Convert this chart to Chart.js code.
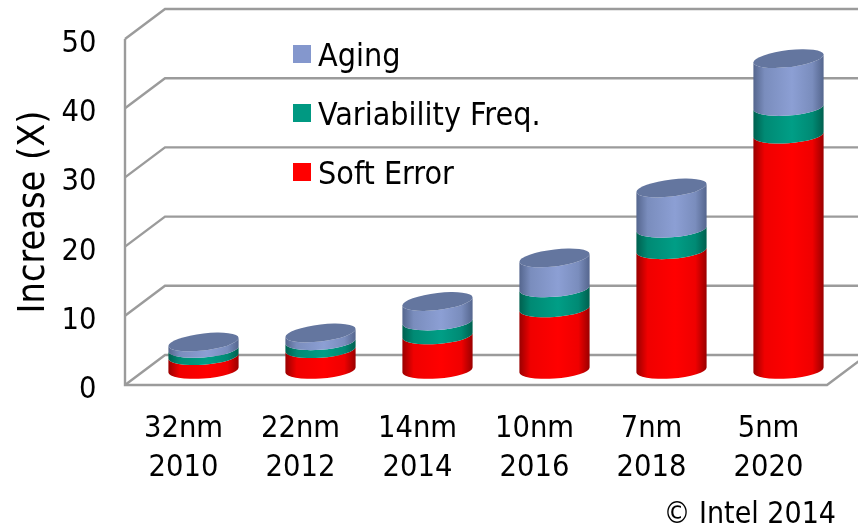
<!DOCTYPE html>
<html>
<head>
<meta charset="utf-8">
<style>
  html, body { margin: 0; padding: 0; background: #fff; }
  #wrap { width: 858px; height: 528px; position: relative; }
</style>
<script src="https://cdn.jsdelivr.net/npm/chart.js@4"></script>
</head>
<body>
<div id="wrap"><canvas id="chart"></canvas></div>
<script>
var categories = [['32nm', '2010'], ['22nm', '2012'], ['14nm', '2014'], ['10nm', '2016'], ['7nm', '2018'], ['5nm', '2020']];
var softError = [2.0, 3.0, 5.0, 8.9, 17.3, 34.0];
var variabilityFreq = [1.05, 1.15, 2.0, 2.9, 3.1, 4.0];
var aging = [1.0, 1.2, 2.9, 4.4, 5.9, 7.0];
var legendOrder = [2, 1, 0];

var FONT = '"DejaVu Sans Condensed", "Noto Sans", sans-serif';
var DEPTH_X = 40, DEPTH_Y = -30;

// edge / mid / centre shades for the cylinder sides
var shades = [
    { edge: '#9a0000', mid: '#f00000', centre: '#ff0000', key: '#ff0000' },
    { edge: '#00604f', mid: '#008a74', centre: '#009e86', key: '#009982' },
    { edge: '#55668e', mid: '#7a8dbd', centre: '#8c9fd4', key: '#8497cd' }
];
var capColor = '#64769f';

function sideGradient(ctx, x0, x1, s) {
    var g = ctx.createLinearGradient(x0, 0, x1, 0);
    g.addColorStop(0, s.edge);
    g.addColorStop(0.16, s.mid);
    g.addColorStop(0.55, s.centre);
    g.addColorStop(0.84, s.mid);
    g.addColorStop(1, s.edge);
    return g;
}

function arcPath(ctx, cx, cy, a, b, shear, from, to, ccw) {
    ctx.save();
    ctx.transform(1, shear, 0, 1, cx, cy);
    ctx.ellipse(0, 0, a, b, 0, from, to, ccw);
    ctx.restore();
}

var wallsPlugin = {
    id: 'walls',
    beforeDatasetsDraw: function(chart) {
        var ctx = chart.ctx, y = chart.scales.y, area = chart.chartArea;
        ctx.save();
        ctx.strokeStyle = '#9b9b9b';
        ctx.lineWidth = 2.4;
        y.ticks.forEach(function(t) {
            var py = y.getPixelForValue(t.value);
            ctx.beginPath();
            ctx.moveTo(area.left, py);
            ctx.lineTo(area.left + DEPTH_X, py + DEPTH_Y);
            ctx.lineTo(chart.width, py + DEPTH_Y);
            ctx.stroke();
        });
        ctx.beginPath();
        ctx.moveTo(area.left, area.top);
        ctx.lineTo(area.left, area.bottom);
        ctx.lineTo(area.right, area.bottom);
        ctx.lineTo(area.right + DEPTH_X, area.bottom + DEPTH_Y);
        ctx.stroke();
        ctx.restore();
    }
};

var cylinderPlugin = {
    id: 'cylinders',
    afterDatasetsDraw: function(chart) {
        var ctx = chart.ctx;
        var n = chart.data.datasets.length;
        var b = 8.5, rimShear = -2.5 / 35, capShear = -4 / 35;
        chart.data.labels.forEach(function(_, j) {
            for (var i = 0; i < n; i++) {
                var bar = chart.getDatasetMeta(i).data[j];
                var a = bar.width / 2;
                var cx = bar.x + DEPTH_X / 2;
                var yTop = bar.y + DEPTH_Y / 2;
                var yBase = bar.base + DEPTH_Y / 2;
                var topShear = i == n - 1 ? capShear : rimShear;
                ctx.beginPath();
                arcPath(ctx, cx, yBase, a, b, rimShear, 0, Math.PI, false);
                arcPath(ctx, cx, yTop, a, b, topShear, Math.PI, 0, true);
                ctx.closePath();
                ctx.fillStyle = sideGradient(ctx, cx - a, cx + a, shades[i]);
                ctx.fill();
                if (i == n - 1) {
                    ctx.beginPath();
                    arcPath(ctx, cx, yTop, a, b, capShear, 0, Math.PI * 2, false);
                    ctx.closePath();
                    ctx.fillStyle = capColor;
                    ctx.fill();
                }
            }
        });
    }
};

var notesPlugin = {
    id: 'notes',
    afterDraw: function(chart) {
        var ctx = chart.ctx;
        ctx.save();
        ctx.textBaseline = 'alphabetic';
        ctx.font = '32px ' + FONT;
        legendOrder.forEach(function(i, row) {
            var top = 45 + row * 59;
            ctx.fillStyle = shades[i].key;
            ctx.fillRect(293, top, 18, 18);
            ctx.fillStyle = '#000';
            ctx.fillText(chart.data.datasets[i].label, 318, top + 21);
        });
        ctx.font = '30px ' + FONT;
        ctx.textAlign = 'right';
        ctx.fillText('\u00a9 Intel 2014', 836, 523);
        ctx.restore();
    }
};

new Chart(document.getElementById('chart'), {
    type: 'bar',
    data: {
        labels: categories,
        datasets: [
            { label: 'Soft Error', data: softError, backgroundColor: 'rgba(0,0,0,0)' },
            { label: 'Variability Freq.', data: variabilityFreq, backgroundColor: 'rgba(0,0,0,0)' },
            { label: 'Aging', data: aging, backgroundColor: 'rgba(0,0,0,0)' }
        ]
    },
    options: {
        responsive: true,
        maintainAspectRatio: false,
        animation: false,
        layout: { padding: { top: 39, right: 31, left: 0, bottom: 0 } },
        plugins: { legend: { display: false }, tooltip: { enabled: false } },
        datasets: { bar: { categoryPercentage: 1, barPercentage: 0.6 } },
        scales: {
            x: {
                stacked: true,
                afterFit: function(scale) { scale.height = 143; scale.paddingTop = 0; scale.paddingBottom = 0; },
                grid: { display: false, drawTicks: false },
                border: { display: false },
                ticks: { color: '#000', padding: 25, maxRotation: 0, font: { family: FONT, size: 30.5, lineHeight: 1.28 } }
            },
            y: {
                stacked: true,
                min: 0,
                max: 50,
                afterFit: function(scale) { scale.width = 125; scale.paddingTop = 0; scale.paddingBottom = 0; },
                grid: { display: false, drawTicks: false },
                border: { display: false },
                title: { display: true, text: 'Increase (X)', color: '#000', padding: { top: 12, bottom: 0 }, font: { family: FONT, size: 37.5, weight: 'normal' } },
                ticks: { color: '#000', stepSize: 10, padding: 28.5, labelOffset: 5, font: { family: FONT, size: 30.5 } }
            }
        }
    },
    plugins: [wallsPlugin, cylinderPlugin, notesPlugin]
});
</script>
</body>
</html>
